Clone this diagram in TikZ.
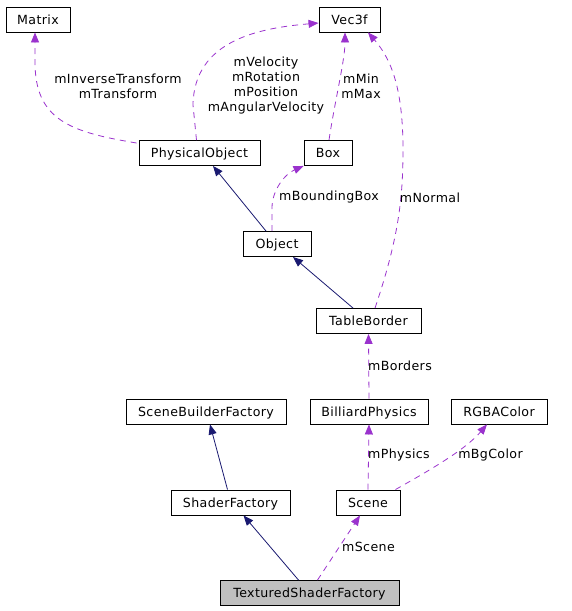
\documentclass[tikz,border=0pt]{standalone}
\usepackage{fontspec}
\setmainfont{DejaVu Sans}[LetterSpace=3]
\usetikzlibrary{arrows.meta,calc}
\definecolor{navyedge}{HTML}{191970}
\definecolor{purpleedge}{HTML}{9A32CD}
\definecolor{focusfill}{HTML}{BFBFBF}
\tikzset{
  cls/.style={draw=black, line width=0.9pt, rectangle, inner sep=0pt, minimum height=25pt, text height=9.5pt, text depth=0pt, font=\fontsize{12.6}{15}\selectfont},
  lbl/.style={inner sep=0pt, align=center, font=\fontsize{12.6}{15}\selectfont},
  inherit/.style={draw=navyedge, line width=0.8pt, -{Triangle[length=10pt,width=8pt]}},
  usage/.style={draw=purpleedge, line width=0.8pt, dash pattern=on 6pt off 5pt, -{Triangle[length=10pt,width=8pt]}}
}
\begin{document}
\begin{tikzpicture}[x=1pt,y=-1pt]
\useasboundingbox (0,0) rectangle (571,611);
% classes
\node[cls, minimum width=64pt] (matrix) at (38,19.5) {Matrix};
\node[cls, minimum width=61pt] (vec) at (349.5,19.5) {Vec3f};
\node[cls, minimum width=121pt] (po) at (199.5,153) {PhysicalObject};
\node[cls, minimum width=48pt] (box) at (328,153) {Box};
\node[cls, minimum width=68pt] (obj) at (277,244) {Object};
\node[cls, minimum width=105pt] (tb) at (368.5,321) {TableBorder};
\node[cls, minimum width=160pt] (sbf) at (206,411.5) {SceneBuilderFactory};
\node[cls, minimum width=118pt] (bp) at (369,411.5) {BilliardPhysics};
\node[cls, minimum width=96pt] (rgba) at (499,411.5) {RGBAColor};
\node[cls, minimum width=119pt] (sf) at (230.5,502.5) {ShaderFactory};
\node[cls, minimum width=64pt] (scene) at (368,502.5) {Scene};
\node[cls, minimum width=179pt, fill=focusfill] (tsf) at (309.5,593) {TexturedShaderFactory};
% inheritance edges
\draw[inherit] ($(obj.north)+(-11,0)$) -- ($(po.south)+(13.5,0)$);
\draw[inherit] ($(tb.north)+(-15.5,0)$) -- ($(obj.south)+(16,0)$);
\draw[inherit] ($(sf.north)+(-3,0)$) -- ($(sbf.south)+(4,0)$);
\draw[inherit] ($(tsf.north)+(-11,0)$) -- ($(sf.south)+(13,0)$);
% usage edges
\draw[usage] ($(po.west)+(-2,-10)$) .. controls (70,132) and (35,120) .. (35,62) -- ($(matrix.south)+(-3,0)$);
\draw[usage] ($(po.north)+(-3,0)$) -- (193,105) .. controls (194,40) and (260,28) .. ($(vec.west)+(0,3.5)$);
\draw[usage] ($(box.north)+(1,0)$) .. controls (335,100) and (345,60) .. ($(vec.south)+(-4.5,0)$);
\draw[usage] ($(tb.north)+(6.5,0)$) .. controls (398,240) and (403,200) .. (403,150) .. controls (403,90) and (392,60) .. ($(vec.south)+(18.5,0)$);
\draw[usage] ($(obj.north)+(-5,0)$) -- (272,208) .. controls (272,190) and (285,174) .. (box.south west);
\draw[usage] (bp.north) -- (tb.south);
\draw[usage] (scene.north) -- (bp.south);
\draw[usage] ($(scene.north east)+(-5,0)$) .. controls (430,470) and (465,450) .. ($(rgba.south)+(-12,0)$);
\draw[usage] ($(tsf.north)+(8,0)$) -- ($(scene.south)+(-8,0)$);
% labels
\node[lbl] (l1) at (118,86.5) {mInverseTransform\\mTransform};
\node[lbl] (l2) at (266,86) {mVelocity\\mRotation\\mPosition\\mAngularVelocity};
\node[lbl] (l3) at (361,86.5) {mMin\\mMax};
\node[lbl] (l4) at (430,197.5) {mNormal};
\node[lbl] (l5) at (329,197.5) {mBoundingBox};
\node[lbl] (l6) at (400,365.5) {mBorders};
\node[lbl] (l7) at (399,455.5) {mPhysics};
\node[lbl] (l8) at (490.5,455.5) {mBgColor};
\node[lbl] (l9) at (368.5,546.5) {mScene};
\end{tikzpicture}
\end{document}
